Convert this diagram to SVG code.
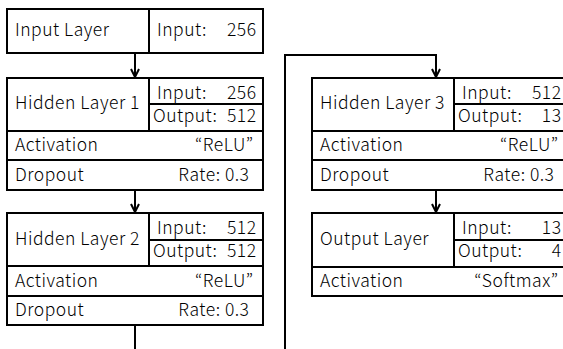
<svg xmlns="http://www.w3.org/2000/svg" width="563" height="349" viewBox="0 0 563 349">
<style>
.box{fill:#fff;stroke:#000;stroke-width:2}
.ln{fill:none;stroke:#000;stroke-width:2}
.cn{fill:none;stroke:#000;stroke-width:2}
text{font-family:"Noto Sans CJK JP","Noto Sans",sans-serif;font-size:17.5px;font-weight:300;letter-spacing:0.5px;fill:#000}
.r{text-anchor:end}
</style>
<defs>
<marker id="ah" viewBox="0 0 10 10" refX="9" refY="5" markerWidth="10" markerHeight="10" markerUnits="userSpaceOnUse" orient="auto">
<path d="M1,1 L9,5 L1,9" fill="none" stroke="#000" stroke-width="2"/>
</marker>
</defs>
<rect width="563" height="349" fill="#fff"/>
<g id="connectors">
<path class="cn" d="M135,53 V77" marker-end="url(#ah)"/>
<path class="cn" d="M135,190 V212" marker-end="url(#ah)"/>
<path class="cn" d="M135,325 V370 H285 V55 H436 V77" marker-end="url(#ah)"/>
<path class="cn" d="M436,190 V212" marker-end="url(#ah)"/>
</g>
<g id="input-layer">
<rect class="box" x="7" y="9" width="256" height="44"/>
<line class="ln" x1="149" y1="9" x2="149" y2="53"/>
<text x="15" y="36">Input Layer</text>
<text x="157" y="36">Input:</text>
<text class="r" x="256.5" y="36">256</text>
</g>
<g id="hidden-layer-1">
<rect class="box" x="7" y="78" width="256" height="112"/>
<line class="ln" x1="149" y1="78" x2="149" y2="131"/>
<line class="ln" x1="149" y1="104" x2="263" y2="104"/>
<line class="ln" x1="7" y1="131" x2="263" y2="131"/>
<line class="ln" x1="7" y1="160" x2="263" y2="160"/>
<text x="15" y="109">Hidden Layer 1</text>
<text x="157" y="98.5">Input:</text>
<text class="r" x="256.5" y="98.5">256</text>
<text x="153" y="122">Output:</text>
<text class="r" x="256.5" y="122">512</text>
<text x="15" y="151">Activation</text>
<text class="r" x="253.5" y="151">“ReLU”</text>
<text x="15" y="180.5">Dropout</text>
<text class="r" x="249.5" y="180.5">Rate: 0.3</text>
</g>
<g id="hidden-layer-2">
<rect class="box" x="7" y="213" width="256" height="112"/>
<line class="ln" x1="149" y1="213" x2="149" y2="266"/>
<line class="ln" x1="149" y1="240" x2="263" y2="240"/>
<line class="ln" x1="7" y1="266" x2="263" y2="266"/>
<line class="ln" x1="7" y1="296" x2="263" y2="296"/>
<text x="15" y="244.5">Hidden Layer 2</text>
<text x="157" y="234">Input:</text>
<text class="r" x="256.5" y="234">512</text>
<text x="153" y="257">Output:</text>
<text class="r" x="256.5" y="257">512</text>
<text x="15" y="286.5">Activation</text>
<text class="r" x="253.5" y="286.5">“ReLU”</text>
<text x="15" y="315.5">Dropout</text>
<text class="r" x="249.5" y="315.5">Rate: 0.3</text>
</g>
<g id="hidden-layer-3">
<rect class="box" x="312" y="78" width="256" height="112"/>
<line class="ln" x1="454" y1="78" x2="454" y2="131"/>
<line class="ln" x1="454" y1="104" x2="568" y2="104"/>
<line class="ln" x1="312" y1="131" x2="568" y2="131"/>
<line class="ln" x1="312" y1="160" x2="568" y2="160"/>
<text x="320" y="109">Hidden Layer 3</text>
<text x="462" y="98.5">Input:</text>
<text class="r" x="561.5" y="98.5">512</text>
<text x="458" y="122">Output:</text>
<text class="r" x="561.5" y="122">13</text>
<text x="320" y="151">Activation</text>
<text class="r" x="558.5" y="151">“ReLU”</text>
<text x="320" y="180.5">Dropout</text>
<text class="r" x="554.5" y="180.5">Rate: 0.3</text>
</g>
<g id="output-layer">
<rect class="box" x="312" y="213" width="256" height="83"/>
<line class="ln" x1="454" y1="213" x2="454" y2="267"/>
<line class="ln" x1="454" y1="240" x2="568" y2="240"/>
<line class="ln" x1="312" y1="267" x2="568" y2="267"/>
<text x="320" y="245">Output Layer</text>
<text x="462" y="234">Input:</text>
<text class="r" x="561.5" y="234">13</text>
<text x="458" y="257">Output:</text>
<text class="r" x="561.5" y="257">4</text>
<text x="320" y="286.5">Activation</text>
<text class="r" x="558.5" y="286.5">“Softmax”</text>
</g>
</svg>
